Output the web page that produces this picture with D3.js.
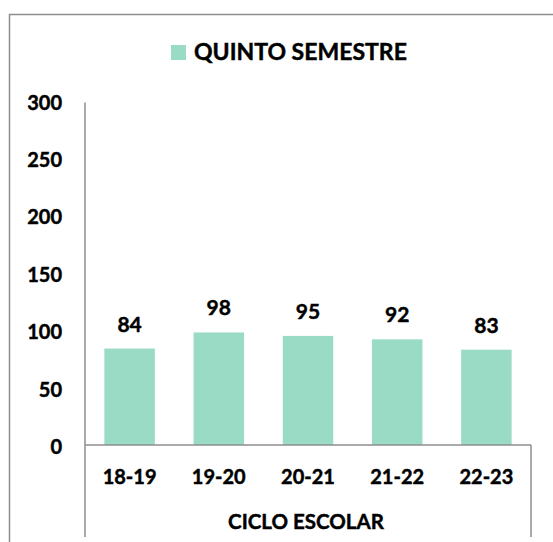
<!DOCTYPE html>
<html>
<head>
<meta charset="utf-8">
<script src="https://cdn.jsdelivr.net/npm/d3@7"></script>
<style>
  body { margin: 0; background: #fff; }
  text { font-family: Lato, "Open Sans", sans-serif; font-weight: bold; fill: #000; stroke: #000; stroke-width: 0.45px; }
</style>
</head>
<body>
<div id="chart"></div>
<script>
// chart data
var ciclos = ["18-19", "19-20", "20-21", "21-22", "22-23"];
var quinto = [84, 98, 95, 92, 83];
var yTicks = [0, 50, 100, 150, 200, 250, 300];
var serieNombre = "QUINTO SEMESTRE";
var ejeX = "CICLO ESCOLAR";

function drawChart() {
	var W = 553, H = 542;
	var barColor = "#99dbc5", lineColor = "#8e8e8e";

	var svg = d3.select("#chart").append("svg")
		.attr("width", W)
		.attr("height", H);

	// outer frame (cropped on right / bottom)
	svg.append("rect")
		.attr("x", 9.5).attr("y", 14.5)
		.attr("width", 700).attr("height", 700)
		.attr("fill", "none")
		.attr("stroke", lineColor)
		.attr("stroke-width", 1.5);

	var left = 85, right = 531, base = 445, top = 100.5;

	var xScale = d3.scaleBand().domain(ciclos)
		.range([left, right])
		.paddingInner(0.434)
		.paddingOuter(0.217);
	var yScale = d3.scaleLinear().domain([0, 300]).range([base, top]);

	// y axis labels
	var yAxis = d3.axisLeft(yScale).tickValues(yTicks).tickSize(0).tickPadding(0);
	var gY = svg.append("g")
		.attr("transform", "translate(62,0)")
		.call(yAxis);
	gY.select(".domain").remove();
	gY.selectAll("text")
		.attr("font-size", 20)
		.attr("font-family", null)
		.attr("dy", "0.38em")
		.attr("y", 1);

	// bars
	svg.selectAll("rect.bar")
		.data(quinto)
		.enter()
		.append("rect")
		.attr("class", "bar")
		.attr("x", function(d, i){ return xScale(ciclos[i]); })
		.attr("y", function(d){ return yScale(d); })
		.attr("width", xScale.bandwidth())
		.attr("height", function(d){ return yScale(0) - yScale(d); })
		.attr("fill", barColor);

	// value labels
	svg.selectAll("text.val")
		.data(quinto)
		.enter()
		.append("text")
		.attr("class", "val")
		.attr("x", function(d, i){ return xScale(ciclos[i]) + xScale.bandwidth()/2; })
		.attr("y", function(d){ return yScale(d) - 17; })
		.attr("text-anchor", "middle")
		.attr("font-size", 21)
		.text(function(d){ return d; });

	// axis lines
	svg.append("line")
		.attr("x1", left).attr("x2", left)
		.attr("y1", top + 2).attr("y2", 537)
		.attr("stroke", lineColor).attr("stroke-width", 1.5);
	svg.append("line")
		.attr("x1", left).attr("x2", right)
		.attr("y1", base).attr("y2", base)
		.attr("stroke", lineColor).attr("stroke-width", 1.5);
	svg.append("line")
		.attr("x1", right).attr("x2", right)
		.attr("y1", base).attr("y2", 537)
		.attr("stroke", lineColor).attr("stroke-width", 1.5);

	// category labels
	var xAxis = d3.axisBottom(xScale).tickSize(0).tickPadding(0);
	var gX = svg.append("g")
		.attr("transform", "translate(0,477)")
		.call(xAxis);
	gX.select(".domain").remove();
	gX.selectAll("text")
		.attr("font-size", 20)
		.attr("font-family", null)
		.attr("y", 0)
		.attr("dy", "0.36em");

	svg.append("text")
		.attr("x", 306)
		.attr("y", 522)
		.attr("dy", "0.36em")
		.attr("text-anchor", "middle")
		.attr("font-size", 20.5)
		.text(ejeX);

	// legend
	svg.append("rect")
		.attr("x", 171).attr("y", 45)
		.attr("width", 15).attr("height", 15)
		.attr("fill", barColor);
	svg.append("text")
		.attr("x", 194)
		.attr("y", 59.5)
		.attr("font-size", 23)
		.text(serieNombre);
}

drawChart();
</script>
</body>
</html>
